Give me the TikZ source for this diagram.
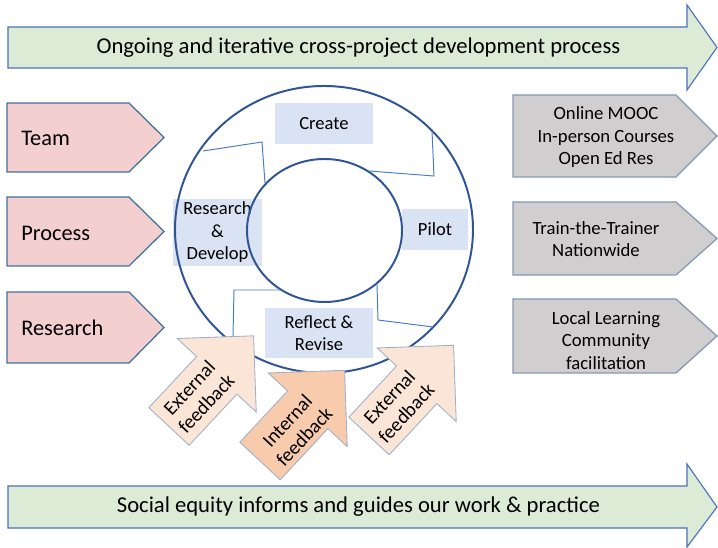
\documentclass[tikz,border=0pt]{standalone}
\usepackage{fontspec}
\setmainfont{Carlito}
\definecolor{greenfill}{HTML}{DCEBD5}
\definecolor{arrowline}{HTML}{4A72C0}
\definecolor{pinkfill}{HTML}{F3CFCF}
\definecolor{pinkline}{HTML}{41719C}
\definecolor{grayfill}{HTML}{D0CECE}
\definecolor{grayline}{HTML}{8497B5}
\definecolor{stagefill}{HTML}{DAE3F3}
\definecolor{ringblue}{HTML}{2F5597}
\definecolor{linkblue}{HTML}{4A7CC8}
\definecolor{fblight}{HTML}{FBE5D6}
\definecolor{fbdark}{HTML}{F8CBAD}
\definecolor{fbline}{HTML}{9DAFCB}
\begin{document}
\begin{tikzpicture}[x=1cm,y=1cm,
    greenarrow/.style={draw=arrowline,fill=greenfill,line width=0.8pt},
    inbox/.style={draw=pinkline,fill=pinkfill,line width=0.9pt},
    outbox/.style={draw=grayline,fill=grayfill,line width=0.9pt},
    ring/.style={draw=ringblue,line width=1.4pt},
    link/.style={draw=linkblue,line width=0.7pt},
    fb/.style={draw=fbline,line width=0.6pt},
    stage/.style={fill=stagefill,inner sep=0pt,align=center,
        font=\fontsize{13.2}{16}\selectfont},
    bigtext/.style={font=\fontsize{16.1}{19.5}\selectfont},
    intext/.style={anchor=west,inner sep=0pt,font=\fontsize{15.9}{19}\selectfont},
    outtext/.style={align=center,font=\fontsize{13.3}{16}\selectfont},
    fbtext/.style={align=center,inner sep=1pt,font=\fontsize{14}{16.5}\selectfont}]
    \useasboundingbox (0,0) rectangle (17.95,13.675);

    % Green process arrows, top and bottom.
    \draw[greenarrow] (0.20,11.975) -- (17.175,11.975) -- (17.175,11.425)
        -- (17.925,12.49) -- (17.175,13.55) -- (17.175,13.00)
        -- (0.20,13.00) -- cycle;
    \node[bigtext] (ongoing) at (8.96,12.475)
        {Ongoing and iterative cross-project development process};
    \draw[greenarrow] (0.20,0.475) -- (17.175,0.475) -- (17.175,0.00)
        -- (17.925,1.00) -- (17.175,2.075) -- (17.175,1.525)
        -- (0.20,1.525) -- cycle;
    \node[bigtext] (equity) at (8.96,1.00)
        {Social equity informs and guides our work \& practice};

    % Inputs on the left.
    \draw[inbox] (0.175,11.10) -- (3.225,11.10) -- (4.10,10.2375)
        -- (3.225,9.375) -- (0.175,9.375) -- cycle;
    \node[intext] (team) at (0.525,10.225) {Team};
    \draw[inbox] (0.175,8.75) -- (3.225,8.75) -- (4.10,7.8875)
        -- (3.225,7.025) -- (0.175,7.025) -- cycle;
    \node[intext] (process) at (0.525,7.85) {Process};
    \draw[inbox] (0.175,6.375) -- (3.225,6.375) -- (4.10,5.4875)
        -- (3.225,4.60) -- (0.175,4.60) -- cycle;
    \node[intext] (research) at (0.525,5.475) {Research};

    % Outputs on the right.
    \draw[outbox] (12.825,11.30) -- (16.90,11.30) -- (17.925,10.275)
        -- (16.90,9.25) -- (12.825,9.25) -- cycle;
    \node[outtext] (mooc) at (15.15,10.2375)
        {Online MOOC\\In-person Courses\\Open Ed Res};
    \draw[outbox] (12.825,8.625) -- (16.90,8.625) -- (17.925,7.7125)
        -- (16.90,6.80) -- (12.825,6.80) -- cycle;
    \node[outtext] (trainer) at (14.90,7.70)
        {Train-the-Trainer\\Nationwide};
    \draw[outbox] (12.825,6.20) -- (16.90,6.20) -- (17.925,5.275)
        -- (16.90,4.35) -- (12.825,4.35) -- cycle;
    \node[outtext] (local) at (15.15,5.1625)
        {Local Learning\\Community\\facilitation};

    % Cycle stages.
    \node[stage,minimum width=2.45cm,minimum height=1.025cm] (create)
        at (8.10,10.5875) {Create};
    \node[stage,minimum width=2.225cm,minimum height=1.675cm] (develop)
        at (5.4375,7.8625) {Research\\\&\\Develop};
    \node[stage,minimum width=1.65cm,minimum height=1.025cm] (pilot)
        at (10.875,7.9375) {Pilot};
    \node[stage,minimum width=2.70cm,minimum height=1.25cm] (reflect)
        at (7.975,5.35) {Reflect \&\\Revise};

    % Ring and the pieces of the cycle arrows.
    \draw[ring] (8.10,7.9375) ellipse (3.725 and 3.5875);
    \draw[ring] (8.1125,7.9125) ellipse (1.9375 and 1.7875);
    \draw[link] (5.075,9.90) -- (6.55,10.125) -- (6.625,9.10);
    \draw[link] (10.80,10.40) -- (10.85,9.275) -- (9.225,9.40);
    \draw[link] (5.825,5.25) -- (5.85,6.425) -- (7.05,6.425);
    \draw[link] (9.425,6.55) -- (9.45,5.675) -- (10.825,5.50);

    % Feedback arrows.
    \begin{scope}[shift={(4.225,3.0125)},rotate=-43]
        \draw[fb,fill=fblight] (-0.69,0) -- (0.69,0) -- (0.69,1.75)
            -- (1.35,1.75) -- (0,3.10) -- (-1.35,1.75) -- (-0.69,1.75) -- cycle;
        \node[fbtext,rotate=47] (extleft) at (0,1.05) {External\\feedback};
    \end{scope}
    \begin{scope}[shift={(6.50,2.15)},rotate=-43]
        \draw[fb,fill=fbdark] (-0.69,0) -- (0.69,0) -- (0.69,1.75)
            -- (1.35,1.75) -- (0,3.10) -- (-1.35,1.75) -- (-0.69,1.75) -- cycle;
        \node[fbtext,rotate=47] (internal) at (0.1,1.2) {Internal\\feedback};
    \end{scope}
    \begin{scope}[shift={(9.225,2.775)},rotate=-43]
        \draw[fb,fill=fblight] (-0.69,0) -- (0.69,0) -- (0.69,1.75)
            -- (1.35,1.75) -- (0,3.10) -- (-1.35,1.75) -- (-0.69,1.75) -- cycle;
        \node[fbtext,rotate=47] (extright) at (0,1.05) {External\\feedback};
    \end{scope}
\end{tikzpicture}
\end{document}
